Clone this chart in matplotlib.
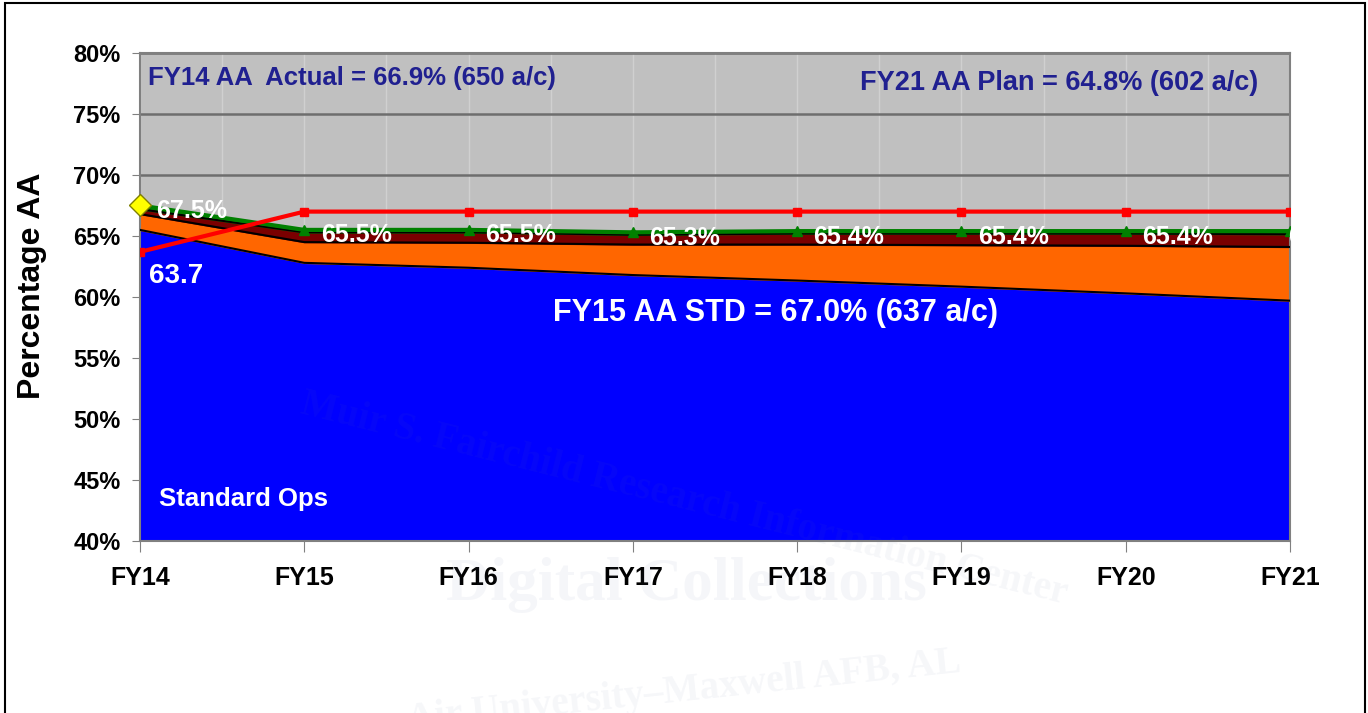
import matplotlib.pyplot as plt
import matplotlib.patches as mpatches
import numpy as np

plt.rcParams['font.family'] = ['Liberation Sans', 'DejaVu Sans']
plt.rcParams['font.weight'] = 'bold'
plt.rcParams['axes.labelweight'] = 'bold'

# fiscal years on the x axis
years = ['FY14', 'FY15', 'FY16', 'FY17', 'FY18', 'FY19', 'FY20', 'FY21']
# top of each stacked layer (percent AA)
standard_ops = [65.5, 62.8, 62.4, 61.8, 61.35, 60.85, 60.3, 59.7]
orange_top = [66.8, 64.5, 64.45, 64.3, 64.3, 64.25, 64.2, 64.1]
maroon_top = [67.2, 65.3, 65.3, 65.1, 65.2, 65.2, 65.2, 65.15]
total_aa = [67.5, 65.5, 65.5, 65.3, 65.4, 65.4, 65.4, 65.4]
total_labels = ['67.5%', '65.5%', '65.5%', '65.3%', '65.4%', '65.4%', '65.4%', '65.4%']
# FY15 AA standard line
aa_std = [63.7, 67.0, 67.0, 67.0, 67.0, 67.0, 67.0, 67.0]

x = np.arange(len(years))

fig = plt.figure(figsize=(13.68, 7.13), dpi=100)
ax = fig.add_axes([140 / 1368, 1 - 541 / 713, 1150 / 1368, 488 / 713])
ax.set_facecolor('#c0c0c0')

# grid: light verticals every half year, dark horizontals every 5%
ax.set_xlim(0, 7)
ax.set_ylim(40, 80)
ax.set_xticks(x)
ax.set_xticklabels(years, fontsize=18)
ax.set_xticks(np.arange(0.5, 7, 0.5), minor=True)
ax.set_yticks(np.arange(40, 81, 5))
ax.set_yticklabels(['{}%'.format(v) for v in range(40, 81, 5)], fontsize=17)
ax.grid(axis='x', which='both', color='#d0d0d0', lw=1, zorder=0)
ax.grid(axis='y', which='major', color='#6e6e6e', lw=1.8, zorder=0)
ax.set_axisbelow(True)
ax.tick_params(axis='x', which='minor', length=0)
ax.tick_params(axis='x', which='major', length=8, color='#808080', pad=10)
ax.tick_params(axis='y', length=6, color='#808080', pad=8)
for s in ax.spines.values():
    s.set_color('#808080')
    s.set_linewidth(1.5)

# stacked areas
ax.fill_between(x, 40, standard_ops, color='#0000ff', zorder=2)
ax.fill_between(x, standard_ops, orange_top, color='#ff6600', zorder=2)
ax.fill_between(x, orange_top, maroon_top, color='#7a0000', zorder=2)
ax.fill_between(x, maroon_top, total_aa, color='#008000', zorder=2)
for top in (standard_ops, orange_top, maroon_top):
    ax.plot(x, top, color='black', lw=1.5, zorder=3)

# total AA line
ax.plot(x, total_aa, color='#008000', lw=3, marker='^', ms=7, zorder=4)
ax.plot(x[0], total_aa[0], marker='D', ms=11, color='#ffff00',
        markeredgecolor='#808000', zorder=6, clip_on=False)

# FY15 AA STD line
ax.plot(x, aa_std, color='#ff0000', lw=3, marker='s', ms=6, zorder=5)

# value labels; the last one runs off the chart edge like the original
clip = mpatches.Rectangle((0, 0), 1.006, 1, transform=ax.transAxes)
for xi, yi, lab in zip(x, total_aa, total_labels):
    dx = 0.1 if xi < x[-1] else -0.01
    t = ax.text(xi + dx, yi - 0.45, lab, color='white', fontsize=18,
                ha='left', va='center', zorder=7)
    t.set_clip_path(clip)
ax.text(0.055, aa_std[0] - 1.95, '63.7', color='white', fontsize=20,
        ha='left', va='center', zorder=7)

ax.text(0.05, 77.95, 'FY14 AA  Actual = 66.9% (650 a/c)', color='#202090',
        fontsize=18.5, ha='left', va='center', zorder=7)
ax.text(6.805, 77.55, 'FY21 AA Plan = 64.8% (602 a/c)', color='#202090',
        fontsize=19.5, ha='right', va='center', zorder=7)
ax.text(3.87, 58.7, 'FY15 AA STD = 67.0% (637 a/c)', color='white',
        fontsize=22, ha='center', va='center', zorder=7)
ax.text(0.115, 43.45, 'Standard Ops', color='white', fontsize=18.5,
        ha='left', va='center', zorder=7)

ax.set_ylabel('Percentage AA', fontsize=23)
ax.yaxis.set_label_coords(-0.081, 0.5225)

# faint watermark
wm = dict(family='Liberation Serif', color='#6070a0', alpha=0.06,
          ha='center', va='center', zorder=10)
fig.text(0.502, 0.18, 'Digital Collections', fontsize=44, **wm)
fig.text(0.50, 0.30, 'Muir S. Fairchild Research Information Center', fontsize=28,
         rotation=-14, **wm)
fig.text(0.50, 0.03, 'Air University\u2013Maxwell AFB, AL', fontsize=28,
         rotation=6, **wm)

# slide frame
fig.patches.append(mpatches.Rectangle((5 / 1368, -0.05), 1360 / 1368, 1.05 - 3 / 713,
                                      transform=fig.transFigure, fill=False,
                                      edgecolor='black', lw=1.5))

fig.savefig('out.png', dpi=100)
